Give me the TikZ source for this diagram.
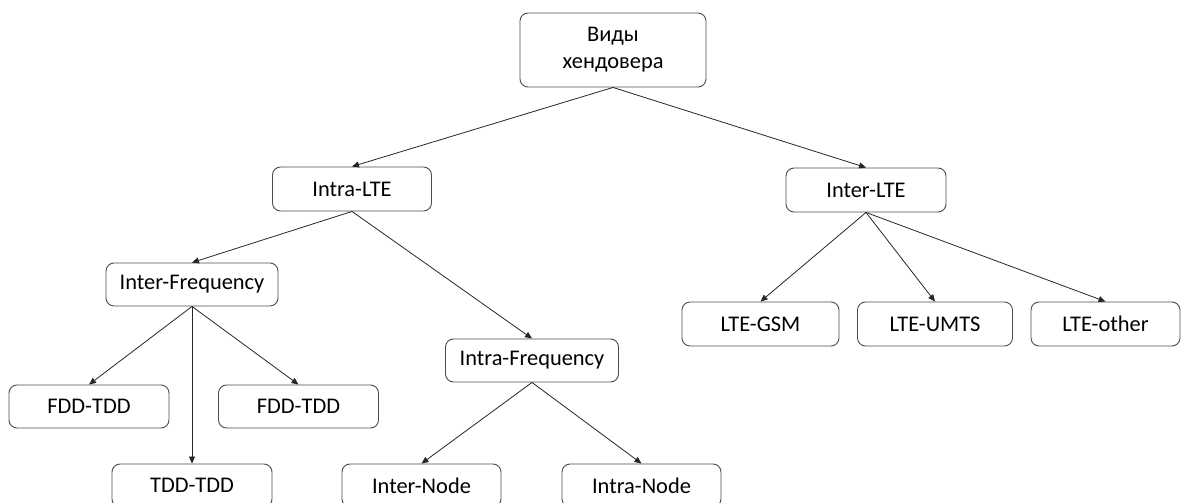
\documentclass[tikz,border=0pt]{standalone}
\usepackage{fontspec}
\setmainfont{Carlito}
\usetikzlibrary{arrows.meta}
\begin{document}
\begin{tikzpicture}[x=1pt,y=-1pt,
  box/.style={draw=black!70, line width=0.9pt, rounded corners=8pt, minimum height=43pt, inner sep=0pt, font=\fontsize{22.4}{27}\selectfont, align=center},
  conn/.style={line width=0.8pt, draw=black!85, -{Triangle[length=7pt,width=6pt]}}]
\useasboundingbox (0,0) rectangle (1181,503);
\node[box, minimum width=186pt, minimum height=74pt] (root) at (613,50) {Виды\\хендовера};
\node[box, minimum width=159pt, minimum height=44pt] (intralte) at (352,189) {Intra-LTE};
\node[box, minimum width=160pt, minimum height=44pt] (interlte) at (866,190) {Inter-LTE};
\node[box, minimum width=172pt] (interfreq) at (192,284.5) {Inter-Frequency};
\node[box, minimum width=173pt] (intrafreq) at (532,360.5) {Intra-Frequency};
\node[box, minimum width=160pt] (fdda) at (89,406.5) {FDD-TDD};
\node[box, minimum width=160pt] (fddb) at (298.5,406.5) {FDD-TDD};
\node[box, minimum width=160pt] (tdd) at (192,485.5) {TDD-TDD};
\node[box, minimum width=159pt] (internode) at (421.5,485.5) {Inter-Node};
\node[box, minimum width=159pt] (intranode) at (641.5,485.5) {Intra-Node};
\node[box, minimum width=157pt, minimum height=44pt] (gsm) at (760.5,324) {LTE-GSM};
\node[box, minimum width=155pt, minimum height=44pt] (umts) at (935,324) {LTE-UMTS};
\node[box, minimum width=149pt, minimum height=44pt] (other) at (1105.5,324) {LTE-other};
\draw[conn] (root.south) -- (intralte.north);
\draw[conn] (root.south) -- (interlte.north);
\draw[conn] (intralte.south) -- (interfreq.north);
\draw[conn] (intralte.south) -- (intrafreq.north);
\draw[conn] (interfreq.south) -- (fdda.north);
\draw[conn] (interfreq.south) -- (tdd.north);
\draw[conn] (interfreq.south) -- (fddb.north);
\draw[conn] (intrafreq.south) -- (internode.north);
\draw[conn] (intrafreq.south) -- (intranode.north);
\draw[conn] (interlte.south) -- (gsm.north);
\draw[conn] (interlte.south) -- (umts.north);
\draw[conn] (interlte.south) -- (other.north);
\end{tikzpicture}
\end{document}
